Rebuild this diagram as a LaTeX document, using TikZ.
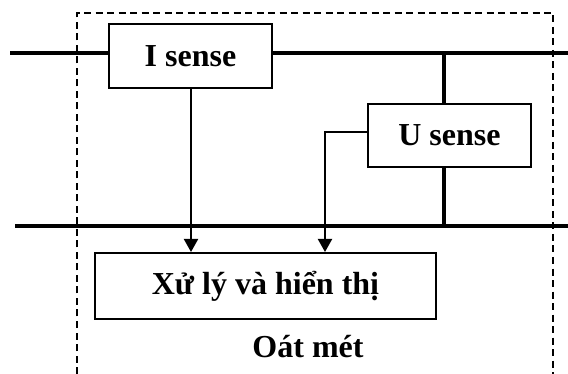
\documentclass[tikz,border=0pt]{standalone}
\usepackage{fontspec}
\setmainfont{Liberation Serif}
\usetikzlibrary{arrows.meta}
\begin{document}
\begin{tikzpicture}[x=1pt,y=-1pt,
  bus/.style={line width=3.8pt},
  blk/.style={draw,line width=2pt,inner sep=0pt,font=\fontsize{32}{36}\selectfont\bfseries},
  sig/.style={line width=2pt,-{Triangle[length=13pt,width=14pt]}},
  frame/.style={line width=1.4pt,dash pattern=on 7pt off 4.5pt}]
\useasboundingbox (0,0) rectangle (568,374);
% frame
\draw[frame] (77,374) -- (77,13) -- (553,13) -- (553,374);
% buses
\coordinate (t1) at (10,53);
\coordinate (t2) at (568,53);
\coordinate (b1) at (15,226);
\coordinate (b2) at (568,226);
\node[blk,minimum width=163pt,minimum height=64pt] (is) at (190.5,56) {I sense};
\node[blk,minimum width=163pt,minimum height=63pt] (us) at (449.5,135.5) {U sense};
\node[blk,minimum width=341pt,minimum height=66pt] (xl) at (265.5,286) {Xử lý và hiển thị};
\node[font=\fontsize{32}{36}\selectfont\bfseries] (om) at (308,347) {Oát mét};
\draw[bus] (t1) -- (t1 -| is.west);
\draw[bus] (t2 -| is.east) -- (t2);
\draw[bus] (b1) -- (b2);
\coordinate (j1) at (444,53);
\coordinate (j2) at (444,226);
\draw[bus] (j1) -- (j1 |- us.north);
\draw[bus] (j2 |- us.south) -- (j2);
% signals
\draw[sig] (is.south -| 191,0) -- (191,0 |- xl.north);
\coordinate (uc) at (325,132);
\draw[sig] (us.west |- uc) -- (uc) -- (uc |- xl.north);
\end{tikzpicture}
\end{document}
